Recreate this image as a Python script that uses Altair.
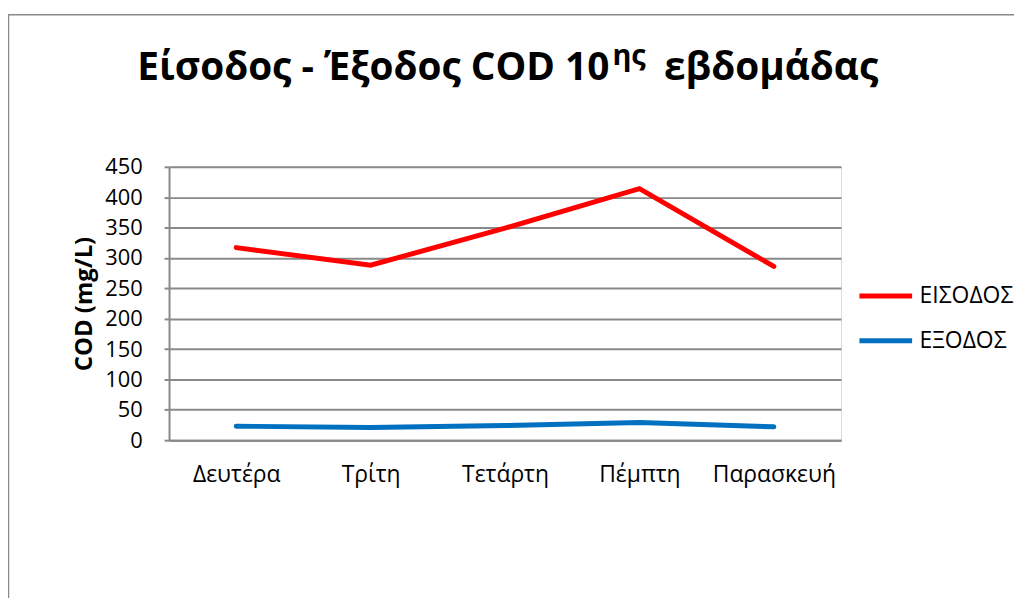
import altair as alt
import pandas as pd

days = ["Δευτέρα", "Τρίτη", "Τετάρτη", "Πέμπτη", "Παρασκευή"]
eisodos = [317, 288, 349, 414, 286]
exodos = [23, 21, 24, 29, 22]
series = ["ΕΙΣΟΔΟΣ", "ΕΞΟΔΟΣ"]
colors = ["#FF0000", "#0070C0"]
y_ticks = [0, 50, 100, 150, 200, 250, 300, 350, 400, 450]
title_main = ["Είσοδος - Έξοδος COD 10"]
title_sup = ["ης"]
title_end = ["εβδομάδας"]
y_title = "COD (mg/L)"

rows = []
for d, a, b in zip(days, eisodos, exodos):
    rows.append({"day": d, "series": series[0], "value": a})
    rows.append({"day": d, "series": series[1], "value": b})
df = pd.DataFrame(rows)

FONT = "Open Sans"
GRID = "#898989"
W, H = 676, 275

lines = alt.Chart(df).mark_line(strokeWidth=5, strokeCap="round", strokeJoin="miter").encode(
    x=alt.X("day:N", sort=days,
            scale=alt.Scale(type="point", padding=0.5),
            axis=alt.Axis(title=None, labelAngle=0, ticks=False, grid=False,
                          labelPadding=24, labelFontSize=23, labelFont=FONT,
                          labelColor="black", domainColor=GRID, domainWidth=2)),
    y=alt.Y("value:Q",
            scale=alt.Scale(domain=[0, 450], nice=False, zero=True),
            axis=alt.Axis(values=y_ticks, title=y_title, grid=True, gridColor=GRID,
                          gridWidth=2, domainColor=GRID, domainWidth=2,
                          tickColor=GRID, tickWidth=2, tickSize=5,
                          labelPadding=22, labelFontSize=22, labelFont=FONT,
                          labelColor="black",
                          titleFont=FONT, titleFontSize=24, titleFontWeight="bold",
                          titleColor="black", titleAngle=270, titleAlign="center",
                          titleBaseline="middle", titleX=-85, titleY=H / 2)),
    color=alt.Color("series:N", sort=series,
                    scale=alt.Scale(domain=series, range=colors),
                    legend=alt.Legend(title=None, orient="none", legendX=692, legendY=117.5,
                                      symbolType="stroke", symbolSize=2809,
                                      symbolStrokeWidth=5, labelFontSize=23,
                                      labelFont=FONT, labelColor="black",
                                      labelOffset=5, clipHeight=25, rowPadding=20,
                                      padding=0)),
)

frame = alt.Chart(pd.DataFrame({"k": [0]})).mark_rect(
    filled=False, stroke="#8a8a8a", strokeWidth=1.5
).encode(x=alt.value(-161.5), x2=alt.value(W + 300), y=alt.value(-153), y2=alt.value(H + 300))

t1 = alt.Chart(pd.DataFrame({"t": title_main})).mark_text(
    font=FONT, fontSize=39, fontWeight="bold", align="right", baseline="alphabetic", color="black"
).encode(text="t:N", x=alt.value(443), y=alt.value(-87))

t2 = alt.Chart(pd.DataFrame({"t": title_sup})).mark_text(
    font=FONT, fontSize=29, fontWeight="bold", align="left", baseline="alphabetic", color="black"
).encode(text="t:N", x=alt.value(446), y=alt.value(-102))

t3 = alt.Chart(pd.DataFrame({"t": title_end})).mark_text(
    font=FONT, fontSize=39, fontWeight="bold", align="left", baseline="alphabetic", color="black"
).encode(text="t:N", x=alt.value(498), y=alt.value(-87))

chart = alt.layer(frame, lines, t1, t2, t3).properties(
    width=W, height=H,
    autosize=alt.AutoSizeParams(type="none"),
    padding={"left": 162, "top": 158, "right": 174, "bottom": 157},
).configure_view(strokeWidth=0).configure(background="white")

chart.save("out.html", embed_options={"renderer": "svg", "actions": False})
